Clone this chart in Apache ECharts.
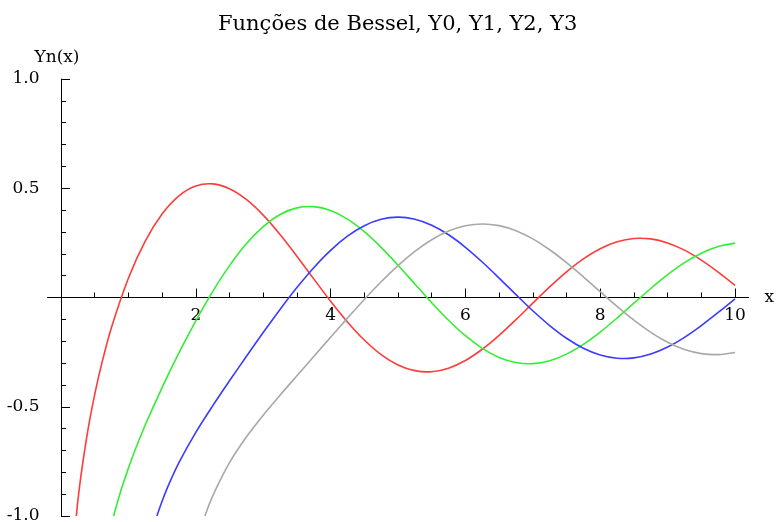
<!DOCTYPE html>
<html>
<head>
<meta charset="utf-8">
<script src="https://cdn.jsdelivr.net/npm/echarts@6/dist/echarts.min.js"></script>
<style>
  html, body { margin: 0; padding: 0; background: #fff; }
  #chart { width: 776px; height: 522px; }
</style>
</head>
<body>
<div id="chart"></div>
<script>
// Bessel functions of the second kind, Y0..Y3, sampled on 0 < x <= 10
const y0X = [0.228,0.25,0.3,0.4,0.5,0.6,0.75,1,1.25,1.5,1.75,2,2.25,2.5,2.75,3,3.25,3.5,3.75,4,4.25,4.5,4.75,5,5.25,5.5,5.75,6,6.25,6.5,6.75,7,7.25,7.5,7.75,8,8.25,8.5,8.75,9,9.25,9.5,9.75,10];
const y0Vals = [-1,-0.9316,-0.8073,-0.6060,-0.4445,-0.3085,-0.1366,0.0883,0.2584,0.3824,0.4655,0.5104,0.5201,0.4981,0.4487,0.3769,0.2883,0.1890,0.0853,-0.0169,-0.1119,-0.1947,-0.2612,-0.3085,-0.3347,-0.3395,-0.3233,-0.2882,-0.2369,-0.1732,-0.1013,-0.0259,0.0484,0.1173,0.1767,0.2235,0.2550,0.2702,0.2682,0.2499,0.2167,0.1711,0.1163,0.0557];

const y1X = [0.781,0.8,0.9,1,1.1,1.25,1.5,1.75,2,2.25,2.5,2.75,3,3.25,3.5,3.75,4,4.25,4.5,4.75,5,5.25,5.5,5.75,6,6.25,6.5,6.75,7,7.25,7.5,7.75,8,8.25,8.5,8.75,9,9.25,9.5,9.75,10];
const y1Vals = [-1,-0.9781,-0.8731,-0.7812,-0.6981,-0.5835,-0.4123,-0.2538,-0.1070,0.0272,0.1459,0.2460,0.3247,0.3798,0.4102,0.4158,0.3979,0.3585,0.3010,0.2292,0.1479,0.0619,-0.0238,-0.1042,-0.1750,-0.2326,-0.2741,-0.2977,-0.3027,-0.2893,-0.2591,-0.2143,-0.1581,-0.0940,-0.0262,0.0412,0.1043,0.1597,0.2028,0.2332,0.2490];

const y2X = [1.423,1.5,1.6,1.75,2,2.25,2.5,2.75,3,3.25,3.5,3.75,4,4.25,4.5,4.75,5,5.25,5.5,5.75,6,6.25,6.5,6.75,7,7.25,7.5,7.75,8,8.25,8.5,8.75,9,9.25,9.5,9.75,10];
const y2Vals = [-1,-0.9322,-0.8552,-0.7556,-0.6174,-0.4959,-0.3813,-0.2698,-0.1604,-0.0546,0.0454,0.1365,0.2159,0.2806,0.3285,0.3577,0.3677,0.3583,0.3308,0.2871,0.2299,0.1625,0.0889,0.0131,-0.0606,-0.1282,-0.1864,-0.2320,-0.2630,-0.2778,-0.2764,-0.2588,-0.2267,-0.1822,-0.1284,-0.0685,-0.0059];

const y3X = [2.135,2.25,2.5,2.75,3,3.25,3.5,3.75,4,4.25,4.5,4.75,5,5.25,5.5,5.75,6,6.25,6.5,6.75,7,7.25,7.5,7.75,8,8.25,8.5,8.75,9,9.25,9.5,9.75,10];
const y3Vals = [-1,-0.9088,-0.7560,-0.6384,-0.5385,-0.4470,-0.3583,-0.2702,-0.1820,-0.0944,-0.0090,0.0720,0.1463,0.2111,0.2644,0.3039,0.3283,0.3366,0.3288,0.3055,0.2681,0.2186,0.1597,0.0946,0.0266,-0.0407,-0.1039,-0.1595,-0.2051,-0.2385,-0.2569,-0.2613,-0.2515];

// axis ticks
const xMajorTicks = [2, 4, 6, 8, 10];
const xMinorTicks = [0.5,1,1.5,2,2.5,3,3.5,4,4.5,5,5.5,6,6.5,7,7.5,8,8.5,9,9.5,10];

const FONT = 'DejaVu Serif';

// plot area
const GRID_TOP = 79;
const GRID_HEIGHT = 437;
const GRID_BOTTOM = 522 - GRID_TOP - GRID_HEIGHT;
// the horizontal axis sits at y = 0, the middle of the symmetric -1..1 range
const X_AXIS_OFFSET = -GRID_HEIGHT / 2;

function pairs(xs, ys) { return xs.map((x, i) => [x, ys[i]]); }

// One smooth curve per series: the sample points are mapped through the
// axes with api.coord and joined by a bezier-smoothed polyline.
function curve(name, xs, ys, color) {
  const pts = pairs(xs, ys);
  return {
    name: name,
    type: 'custom',
    coordinateSystem: 'cartesian2d',
    xAxisIndex: 0,
    yAxisIndex: 0,
    data: pts,
    encode: { x: 0, y: 1 },
    clip: true,
    silent: true,
    z: 3,
    renderItem: function (params, api) {
      if (params.dataIndex !== 0) return null;
      const points = pts.map(p => api.coord(p));
      return {
        type: 'polyline',
        shape: { points: points, smooth: 0.33 },
        style: { stroke: color, lineWidth: 1.6, fill: null },
        silent: true
      };
    }
  };
}

const chart = echarts.init(document.getElementById('chart'), null, { renderer: 'canvas' });

chart.setOption({
  animation: false,
  backgroundColor: '#ffffff',
  title: {
    text: 'Funções de Bessel, Y0, Y1, Y2, Y3',
    left: 213,
    top: 9,
    textStyle: { fontFamily: FONT, fontSize: 21, fontWeight: 'normal', color: '#000' }
  },
  grid: {
    left: 47.5, right: 27.5, top: GRID_TOP, bottom: GRID_BOTTOM,
    containLabel: false,
    outerBoundsMode: 'none'
  },
  xAxis: [
    {
      type: 'value',
      min: -0.2,
      max: 10.2,
      position: 'bottom',
      offset: X_AXIS_OFFSET,
      name: 'x',
      nameLocation: 'end',
      nameGap: 16,
      nameTextStyle: { fontFamily: FONT, fontSize: 17, color: '#000' },
      axisLine: { show: true, onZero: false, lineStyle: { color: '#000', width: 1 } },
      axisTick: { show: true, inside: true, length: 9, customValues: xMajorTicks, lineStyle: { color: '#000' } },
      axisLabel: { show: true, customValues: xMajorTicks, margin: 10, fontFamily: FONT, fontSize: 17, color: '#000' },
      splitLine: { show: false }
    },
    {
      type: 'value',
      min: -0.2,
      max: 10.2,
      position: 'bottom',
      offset: X_AXIS_OFFSET,
      axisLine: { show: false, onZero: false },
      axisTick: { show: true, inside: true, length: 5, customValues: xMinorTicks, lineStyle: { color: '#000' } },
      axisLabel: { show: false },
      splitLine: { show: false }
    }
  ],
  yAxis: {
    type: 'value',
    min: -1,
    max: 1,
    interval: 0.5,
    name: 'Yn(x)',
    nameLocation: 'end',
    nameGap: 13,
    nameTextStyle: { fontFamily: FONT, fontSize: 17, color: '#000', padding: [0, 8, 0, 0] },
    axisLine: { show: true, onZero: true, onZeroAxisIndex: 0, lineStyle: { color: '#000', width: 1 } },
    axisTick: { show: true, inside: true, length: 9, lineStyle: { color: '#000' } },
    minorTick: { show: true, splitNumber: 5, length: 5, lineStyle: { color: '#000' } },
    axisLabel: {
      margin: 8,
      fontFamily: FONT,
      fontSize: 17,
      color: '#000',
      formatter: v => (Math.abs(v) < 1e-9 ? '' : v.toFixed(1))
    },
    splitLine: { show: false },
    minorSplitLine: { show: false }
  },
  series: [
    curve('Y0', y0X, y0Vals, '#ff3b3b'),
    curve('Y1', y1X, y1Vals, '#33ee33'),
    curve('Y2', y2X, y2Vals, '#3b3bff'),
    curve('Y3', y3X, y3Vals, '#a8a8a8')
  ]
});
</script>
</body>
</html>
